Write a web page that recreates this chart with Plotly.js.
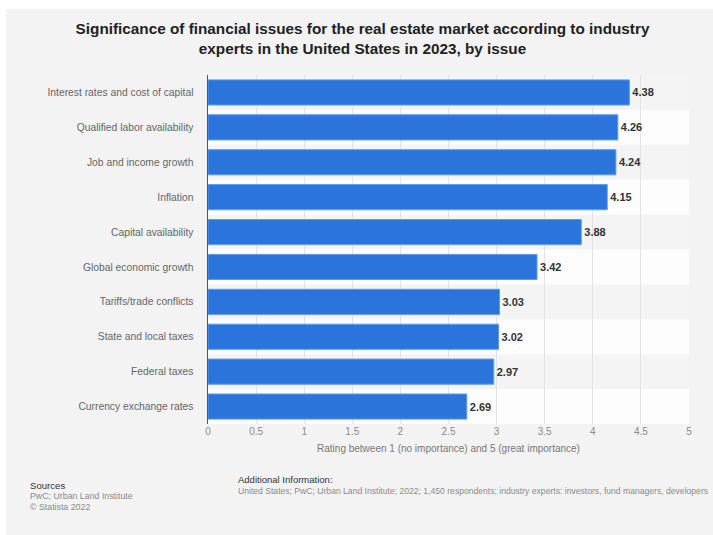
<!DOCTYPE html>
<html>
<head>
<meta charset="utf-8">
<script src="https://cdn.plot.ly/plotly-3.0.1.min.js"></script>
<style>
  html, body { margin: 0; padding: 0; background: #ffffff; }
  #chart { position: absolute; left: 6px; top: 9px; width: 707px; height: 526px; }
</style>
</head>
<body>
<div id="chart"></div>
<script>
const categories = [
  "Interest rates and cost of capital",
  "Qualified labor availability",
  "Job and income growth",
  "Inflation",
  "Capital availability",
  "Global economic growth",
  "Tariffs/trade conflicts",
  "State and local taxes",
  "Federal taxes",
  "Currency exchange rates"
];
const values = [4.38, 4.26, 4.24, 4.15, 3.88, 3.42, 3.03, 3.02, 2.97, 2.69];
const xTickValues = [0, 0.5, 1, 1.5, 2, 2.5, 3, 3.5, 4, 4.5, 5];
const xTickLabels = ["0", "0.5", "1", "1.5", "2", "2.5", "3", "3.5", "4", "4.5", "5"];

const titleText = "Significance of financial issues for the real estate market according to industry<br>experts in the United States in 2023, by issue";
const xTitleText = "Rating between 1 (no importance) and 5 (great importance)";
const sourcesLines = ["Sources", "PwC; Urban Land Institute", "© Statista 2022"];
const infoLines = ["Additional Information:", "United States; PwC; Urban Land Institute; 2022; 1,450 respondents; industry experts: investors, fund managers, developers"];

const FONT = "'Liberation Sans', Arial, sans-serif";

// geometry (page pixels)
const W = 707, H = 526, offX = 6, offY = 9;
const M = { l: 202, r: 24, t: 66, b: 111 };
const pw = W - M.l - M.r, ph = H - M.t - M.b;
const px2x = X => (X - offX - M.l) / pw;
const px2y = Y => 1 - (Y - offY - M.t) / ph;

const bands = [];
categories.forEach((c, i) => {
  if (i % 2 === 1) {
    bands.push({
      type: 'rect', xref: 'x', yref: 'y', layer: 'below',
      x0: xTickValues[0], x1: xTickValues[xTickValues.length - 1],
      y0: i - 0.5, y1: i + 0.5,
      fillcolor: '#fdfdfd', line: { width: 0 }
    });
  }
});

const annotations = [];
const sourceY = [485, 496, 507];
sourcesLines.forEach((t, i) => {
  annotations.push({
    xref: 'paper', yref: 'paper', x: px2x(28), y: px2y(sourceY[i]),
    xanchor: 'left', yanchor: 'middle', showarrow: false, text: t,
    font: { family: FONT, size: i === 0 ? 9.6 : 8.8, color: i === 0 ? '#333333' : '#8a8a8a' }
  });
});
const infoY = [480, 490.5];
infoLines.forEach((t, i) => {
  annotations.push({
    xref: 'paper', yref: 'paper', x: px2x(236), y: px2y(infoY[i]),
    xanchor: 'left', yanchor: 'middle', showarrow: false, text: t,
    font: { family: FONT, size: i === 0 ? 9.5 : 8.6, color: i === 0 ? '#333333' : '#8a8a8a' }
  });
});

const trace = {
  type: 'bar', orientation: 'h',
  y: categories, x: values,
  text: values.map(v => v.toFixed(2)),
  textposition: 'outside',
  cliponaxis: false,
  textfont: { family: FONT, size: 11, color: '#333333', weight: 'bold' },
  marker: { color: '#2a74db', line: { color: '#5b9cf0', width: 1 } },
  hoverinfo: 'none'
};

const layout = {
  width: W, height: H,
  margin: M,
  paper_bgcolor: '#f3f3f3',
  plot_bgcolor: '#f4f4f4',
  bargap: 0.28,
  showlegend: false,
  title: {
    text: titleText,
    font: { family: FONT, size: 15.3, color: '#222222', weight: 'bold' },
    x: (362.5 - offX) / W, xanchor: 'center', xref: 'container',
    y: 1 - (34 - offY) / H, yanchor: 'middle', yref: 'container'
  },
  xaxis: {
    range: [0, 5],
    tickvals: xTickValues, ticktext: xTickLabels,
    showgrid: true, gridcolor: '#e3e3e3', gridwidth: 1,
    zeroline: false, showline: false, ticks: '',
    tickfont: { family: FONT, size: 10, color: '#8a8a8a' },
    title: { text: xTitleText, standoff: 8, font: { family: FONT, size: 10, color: '#777777' } },
    fixedrange: true
  },
  yaxis: {
    type: 'category', autorange: 'reversed',
    showgrid: false, zeroline: false,
    showline: true, linecolor: '#555555', linewidth: 1.5,
    ticks: '', ticklabelstandoff: 11,
    tickfont: { family: FONT, size: 10.3, color: '#666666' },
    fixedrange: true
  },
  shapes: bands,
  annotations: annotations
};

Plotly.newPlot('chart', [trace], layout, { displayModeBar: false, staticPlot: true });
</script>
</body>
</html>
